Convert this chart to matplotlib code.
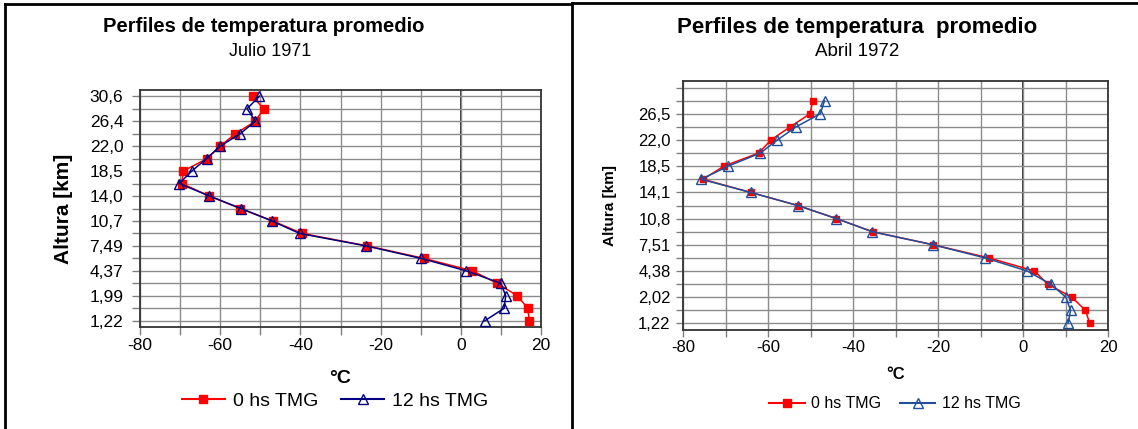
import numpy as np
import matplotlib
matplotlib.use("Agg")
import matplotlib.pyplot as plt
from matplotlib.lines import Line2D

plt.rcParams['font.family'] = ['Liberation Sans', 'DejaVu Sans']

# ---- data (height levels, temperatures in deg C) ----
alt_jul = ['1,22', '', '1,99', '', '4,37', '', '7,49', '', '10,7', '', '14,0',
           '', '18,5', '', '22,0', '', '26,4', '', '30,6']
t0_jul = [17.1, 16.7, 14.1, 9.1, 2.9, -9.2, -23.3, -39.6, -46.9, -55.0,
          -62.7, -69.6, -69.2, -63.3, -60.0, -56.2, -51.2, -49.2, -51.9]
t12_jul = [6.0, 10.8, 11.2, 10.0, 1.4, -9.9, -23.6, -40.2, -47.1, -54.8,
           -62.7, -70.2, -67.1, -63.4, -60.0, -55.0, -51.2, -53.3, -50.2]

alt_abr = ['1,22', '', '2,02', '', '4,38', '', '7,51', '', '10,8', '', '14,1',
           '', '18,5', '', '22,0', '', '26,5', '', '']
t0_abr = [15.7, 14.7, 11.5, 5.8, 2.7, -8.0, -21.1, -35.4, -43.9, -53.0,
          -64.1, -75.3, -70.4, -62.2, -59.3, -54.8, -50.1, -49.5]
t12_abr = [10.6, 11.2, 10.1, 6.5, 1.0, -8.9, -21.1, -35.5, -43.9, -53.0,
           -64.1, -75.7, -69.4, -61.8, -57.8, -53.4, -47.7, -46.7]

W, H = 1138, 429
fig = plt.figure(figsize=(W / 100, H / 100), dpi=100)


def px(x0, y0, x1, y1):
    # pixel box (top-left origin) -> figure fraction
    return [x0 / W, 1 - y1 / H, (x1 - x0) / W, (y1 - y0) / H]


def panel(rect, alt, t0, t12, fs, blue, ms0, ms12, tl, ypad):
    ax = fig.add_axes(rect)
    lev0 = np.arange(len(t0))
    lev12 = np.arange(len(t12))
    ax.plot(t0, lev0, color='#ff0000', lw=1.1, marker='s', ms=ms0,
            mec='#ff0000', mfc='#ff0000', zorder=3)
    ax.plot(t12, lev12, color=blue, lw=1.1, marker='^', ms=ms12,
            mec=blue, mfc='none', mew=1.0, zorder=4)
    ax.set_xlim(-80, 20)
    ax.set_ylim(-0.5, 18.5)
    ax.set_xticks(np.arange(-80, 21, 10))
    ax.set_xticklabels([str(v) if v % 20 == 0 else '' for v in range(-80, 21, 10)])
    ax.set_yticks(np.arange(19))
    ax.set_yticklabels(alt)
    ax.grid(True, color='#8c8c8c', lw=1.0, zorder=0)
    ax.axvline(0, color='#222222', lw=1.3, zorder=1)
    for s in ax.spines.values():
        s.set_color('#333333')
        s.set_linewidth(1.3)
    ax.tick_params(direction='out', length=tl, width=1, color='#808080',
                   labelsize=fs, pad=2)
    ax.tick_params(axis='y', pad=ypad)
    return ax


ax1 = panel(px(140, 90, 541, 327), alt_jul, t0_jul, t12_jul, 12.5, '#000080',
            5.5, 7.5, 6, 6)
ax1.set_ylabel('Altura [km]', fontsize=15, fontweight='bold', labelpad=12)
ax1.set_xlabel('°C', fontsize=14, fontweight='bold', labelpad=12)

ax2 = panel(px(683, 81, 1108, 330), alt_abr, t0_abr, t12_abr, 12, '#1f4f9a',
            5, 7, 5, 4)
ax2.set_ylabel('Altura [km]', fontsize=11, fontweight='bold', labelpad=15)
ax2.set_xlabel('°C', fontsize=12, fontweight='bold', labelpad=9)

# titles
fig.text(264 / W, 1 - 27 / H, 'Perfiles de temperatura promedio', ha='center',
         va='center', fontsize=14.5, fontweight='bold')
fig.text(270 / W, 1 - 51 / H, 'Julio 1971', ha='center', va='center', fontsize=13)
fig.text(857 / W, 1 - 27 / H, 'Perfiles de temperatura  promedio', ha='center',
         va='center', fontsize=16, fontweight='bold')
fig.text(857 / W, 1 - 51 / H, 'Abril 1972', ha='center', va='center', fontsize=13.5)

# legends
h1 = [Line2D([], [], color='#ff0000', marker='s', ms=6, mfc='#ff0000'),
      Line2D([], [], color='#000080', marker='^', ms=7, mfc='none')]
fig.legend(h1, ['0 hs TMG', '12 hs TMG'], loc='center', ncol=2, frameon=False,
           bbox_to_anchor=(335 / W, 1 - 401 / H), fontsize=14, handlelength=2.2,
           columnspacing=1.2, handletextpad=0.4)
h2 = [Line2D([], [], color='#ff0000', marker='s', ms=6, mfc='#ff0000'),
      Line2D([], [], color='#1f4f9a', marker='^', ms=7, mfc='none')]
fig.legend(h2, ['0 hs TMG', '12 hs TMG'], loc='center', ncol=2, frameon=False,
           bbox_to_anchor=(895 / W, 1 - 404 / H), fontsize=11.5, handlelength=2.2,
           columnspacing=1.2, handletextpad=0.4)

# panel frames
fig.add_artist(Line2D([5 / W, 5 / W], [0, 1 - 4 / H], color='black', lw=2))
fig.add_artist(Line2D([5 / W, 572 / W], [1 - 4 / H, 1 - 4 / H], color='black', lw=2))
fig.add_artist(Line2D([572 / W, 572 / W], [0, 1 - 3 / H], color='black', lw=2))
fig.add_artist(Line2D([572 / W, 1], [1 - 3 / H, 1 - 3 / H], color='black', lw=2))

fig.savefig('out.png', dpi=100)
